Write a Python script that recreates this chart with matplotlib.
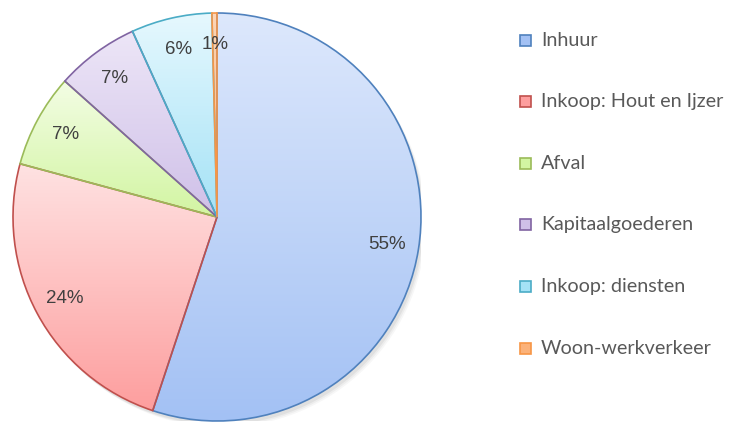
import numpy as np
import matplotlib
matplotlib.use("Agg")
import matplotlib.pyplot as plt
from matplotlib.colors import LinearSegmentedColormap
from matplotlib.patches import Rectangle, Circle

# gegevens
categories = ["Inhuur", "Inkoop: Hout en Ijzer", "Afval", "Kapitaalgoederen",
              "Inkoop: diensten", "Woon-werkverkeer"]
shares = [55.1, 24.1, 7.4, 6.6, 6.4, 0.4]
pct_labels = ["55%", "24%", "7%", "7%", "6%", "1%"]

# kleuren: boven, onder, rand
top_cols = ["#dde8fc", "#ffe2e2", "#f3fde4", "#ede6f7", "#e6f8fe", "#fdd6b8"]
bot_cols = ["#a3c1f4", "#fd9e9e", "#d2f5a2", "#cfc0e8", "#a4e2f6", "#fbb27a"]
edge_cols = ["#4f81bd", "#c0504d", "#9bbb59", "#8064a2", "#4bacc6", "#f79646"]

W, H = 737, 428
fig = plt.figure(figsize=(W / 100, H / 100), dpi=100, facecolor="white")

cx, cy, r = 217, 217, 204
ax = fig.add_axes([(cx - r) / W, (H - cy - r) / H, 2 * r / W, 2 * r / H])
ax.set_aspect("equal")
ax.axis("off")

# zachte schaduw
for k, a in enumerate([0.05, 0.04, 0.03]):
    ax.add_patch(Circle((0.012 + 0.006 * k, -0.018 - 0.006 * k), 1.0,
                        facecolor="#000000", alpha=a, edgecolor="none", zorder=0))
ax.add_patch(Circle((0, 0), 1.0, facecolor="white", edgecolor="none", zorder=0.5))

wedges, _ = ax.pie(shares, startangle=90, counterclock=False, radius=1.0,
                   wedgeprops=dict(facecolor="none", linewidth=1.2))

grad = np.linspace(1, 0, 256).reshape(-1, 1)
for w, tc, bc, ec in zip(wedges, top_cols, bot_cols, edge_cols):
    w.set_edgecolor(ec)
    w.set_zorder(3)
    bb = w.get_path().get_extents()
    cmap = LinearSegmentedColormap.from_list("g", [bc, tc])
    im = ax.imshow(grad, cmap=cmap, extent=[bb.x0, bb.x1, bb.y0, bb.y1],
                   aspect="auto", zorder=2, origin="upper")
    im.set_clip_path(w)

ax.set_xlim(-1, 1)
ax.set_ylim(-1, 1)

# percentages
theta = 90.0
total = sum(shares)
for s, lab in zip(shares, pct_labels):
    mid = np.deg2rad(theta - 360 * s / total / 2)
    theta -= 360 * s / total
    d = 0.845
    ax.text(d * np.cos(mid), d * np.sin(mid), lab, ha="center", va="center",
            fontsize=13.5, color="#404040", family="Liberation Sans", zorder=5)

# legenda
for i, (lab, tc, bc, ec) in enumerate(zip(categories, top_cols, bot_cols, edge_cols)):
    y = 40 + i * 61.6
    fig.patches.append(Rectangle(((520) / W, (H - y - 5.5) / H), 11 / W, 11 / H,
                                 transform=fig.transFigure, facecolor=bc,
                                 edgecolor=ec, linewidth=1.2))
    fig.text(541 / W, (H - y) / H, lab, ha="left", va="center",
             fontsize=14.2, color="#595959", family="Lato")

fig.savefig("out.png", dpi=100, facecolor="white")
